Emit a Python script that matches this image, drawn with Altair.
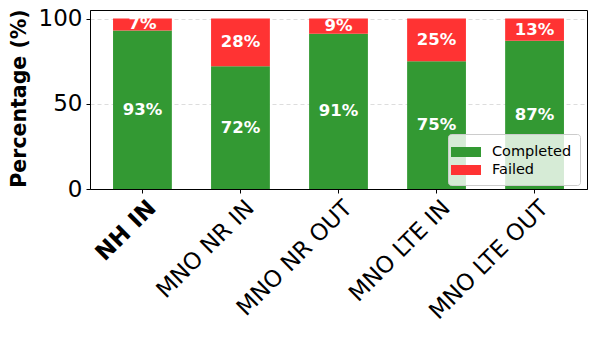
import altair as alt
import pandas as pd

categories = ["NH IN", "MNO NR IN", "MNO NR OUT", "MNO LTE IN", "MNO LTE OUT"]
completed = [93, 72, 91, 75, 87]
failed = [7, 28, 9, 25, 13]
statuses = ["Completed", "Failed"]
colors = ["#339933", "#ff3333"]
y_ticks = [0, 50, 100]

rows = []
for c, a, b in zip(categories, completed, failed):
    rows.append({"category": c, "status": statuses[0], "value": a, "order": 0})
    rows.append({"category": c, "status": statuses[1], "value": b, "order": 1})
df = pd.DataFrame(rows)

FONT = "DejaVu Sans"
W, H = 497, 179

yscale = alt.Scale(domain=[0, 105], nice=False, zero=True)

x_enc = alt.X(
    "category:N",
    sort=categories,
    title=None,
    scale=alt.Scale(paddingInner=0.4, paddingOuter=0.235),
    axis=alt.Axis(
        labelAngle=-45,
        labelAlign="right",
        labelBaseline="middle",
        labelFontSize=23,
        labelOffset=10,
        labelPadding=11,
        labelOverlap=False,
        labelLimit=300,
        tickSize=4,
        labelFontWeight={"condition": {"test": "datum.value == 'NH IN'", "value": "bold"}, "value": "normal"},
    ),
)

bars = alt.Chart(df).mark_bar().encode(
    x=x_enc,
    y=alt.Y(
        "value:Q",
        stack="zero",
        scale=yscale,
        axis=alt.Axis(
            values=y_ticks,
            title="Percentage (%)",
            titleFontSize=20.5,
            titleFontWeight="bold",
            titleAngle=-90,
            titleAlign="center",
            titleBaseline="middle",
            titleX=-71,
            titleY=88,
            labelFontSize=23,
            labelPadding=4,
            tickSize=4,
            grid=True,
            gridDash=[4, 3],
            gridColor="#dddddd",
            gridWidth=1,
        ),
    ),
    color=alt.Color(
        "status:N",
        scale=alt.Scale(domain=statuses, range=colors),
        title=None,
        legend=alt.Legend(
            orient="none",
            legendX=358,
            legendY=124,
            labelFontSize=14.5,
            labelFont=FONT,
            symbolType="M-1.5,-0.5L1.5,-0.5L1.5,0.5L-1.5,0.5Z",
            symbolSize=400,
            symbolStrokeWidth=0,
            symbolOpacity=1,
            labelOffset=16,
            rowPadding=1,
            padding=8,
            fillColor="rgba(255,255,255,0.8)",
            strokeColor="#cccccc",
            cornerRadius=3,
        ),
    ),
    order=alt.Order("order:Q"),
)

labels = (
    alt.Chart(df)
    .transform_stack(stack="value", groupby=["category"], as_=["y0", "y1"], sort=[alt.SortField("order")])
    .transform_calculate(mid="(datum.y0 + datum.y1) / 2", label="datum.value + '%'")
    .mark_text(color="white", font=FONT, fontSize=16.5, fontWeight="bold", baseline="middle", align="center")
    .encode(
        x=alt.X("category:N", sort=categories),
        y=alt.Y("mid:Q", scale=yscale),
        text="label:N",
    )
)

chart = (
    alt.layer(bars, labels)
    .properties(
        width=W,
        height=H,
        autosize=alt.AutoSizeParams(type="none"),
        padding={"left": 82, "top": 2, "right": 3, "bottom": 140},
        background="white",
    )
    .configure_view(stroke="black", strokeWidth=1)
    .configure_axis(
        domainColor="black",
        tickColor="black",
        labelColor="black",
        titleColor="black",
        labelFont=FONT,
        titleFont=FONT,
    )
)

chart.save("out.html", embed_options={"renderer": "svg", "actions": False})
